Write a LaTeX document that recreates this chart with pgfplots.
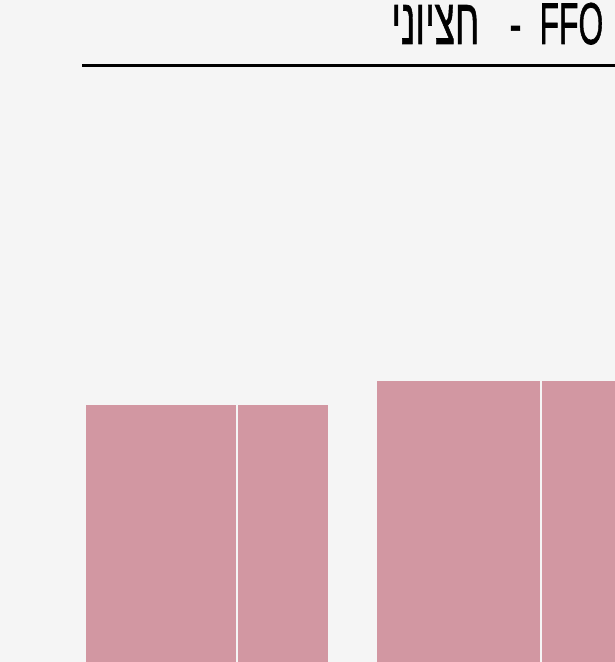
\documentclass[border=0pt]{standalone}
\usepackage{fontspec}
\setmainfont{Liberation Sans}
\newfontfamily\titlefont[FakeBold=1.2]{Liberation Sans}
\usepackage{graphicx}
\usepackage{pgfplots}
\pgfplotsset{compat=1.18}
\TeXXeTstate=1
\definecolor{bgc}{HTML}{F5F5F5}
\definecolor{barc}{HTML}{D297A2}
\begin{document}
\begin{tikzpicture}[x=1pt,y=1pt]
\fill[bgc] (0,0) rectangle (615,662);
\begin{axis}[at={(0pt,0pt)}, anchor=south west, scale only axis,
  width=615pt, height=662pt, xmin=0, xmax=615, ymin=0, ymax=662,
  hide axis, clip=true]
\addplot[ybar, bar width=150, bar shift=0pt, fill=barc, draw=none] coordinates {(161,257)};
\addplot[ybar, bar width=90, bar shift=0pt, fill=barc, draw=none] coordinates {(283,257)};
\addplot[ybar, bar width=163, bar shift=0pt, fill=barc, draw=none] coordinates {(458.5,281)};
\addplot[ybar, bar width=90, bar shift=0pt, fill=barc, draw=none] coordinates {(587,281)};
\draw[line width=3pt, black] (axis cs:82,596) -- (axis cs:615,596);
\node[anchor=base east, inner sep=0pt, text height=41pt, text depth=0pt, font=\fontsize{59}{62}\titlefont] at (axis cs:603.5,618)
  {\scalebox{0.54}[1]{\smash{FFO}}};
\node[anchor=base, inner sep=0pt, text height=41pt, text depth=0pt, font=\fontsize{59}{62}\titlefont] at (axis cs:515.5,618)
  {\scalebox{0.62}[1]{\smash{-}}};
\node[anchor=base east, inner sep=0pt, text height=41pt, text depth=0pt, font=\fontsize{65}{68}\titlefont] at (axis cs:479.5,618)
  {\scalebox{0.57}[1]{\smash{\beginR חציוני\endR}}};
\end{axis}
\end{tikzpicture}
\end{document}
